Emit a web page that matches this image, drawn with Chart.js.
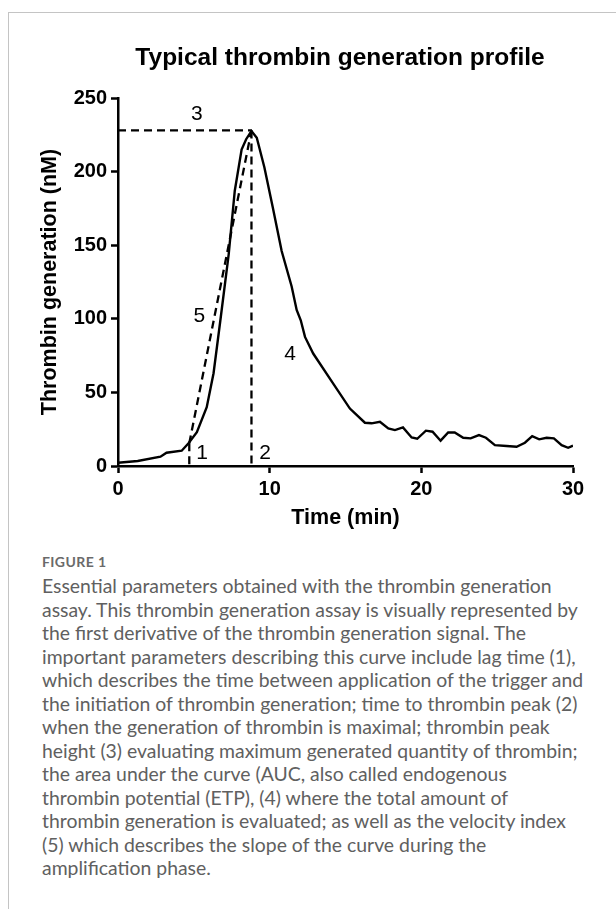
<!DOCTYPE html>
<html>
<head>
<meta charset="utf-8">
<script src="https://cdn.jsdelivr.net/npm/chart.js@4.4.0/dist/chart.umd.min.js"></script>
<style>
  html, body { margin: 0; padding: 0; background: #fff; width: 616px; height: 909px; overflow: hidden; }
  #frame { position: absolute; left: 8px; top: 12px; width: 620px; height: 910px;
           border-left: 1px solid #c4c4c4; border-top: 1px solid #c4c4c4; }
  #chart { position: absolute; left: 0; top: 0; }
  #caption { position: absolute; left: 42px; top: 550px; width: 570px;
             font-family: Lato, "Open Sans", sans-serif; color: #606060; }
  #figlabel { font-size: 14px; font-weight: bold; line-height: 24px; letter-spacing: 0.4px; height: 24px; color: #6a6a6a; }
  #captext { font-size: 19.4px; line-height: 23.5px; white-space: nowrap; }
</style>
</head>
<body>
<div id="frame"></div>
<canvas id="chart" width="616" height="531"></canvas>
<div id="caption">
  <div id="figlabel">FIGURE 1</div>
  <div id="captext">Essential parameters obtained with the thrombin generation<br>assay. This thrombin generation assay is visually represented by<br>the first derivative of the thrombin generation signal. The<br>important parameters describing this curve include lag time (1),<br>which describes the time between application of the trigger and<br>the initiation of thrombin generation; time to thrombin peak (2)<br>when the generation of thrombin is maximal; thrombin peak<br>height (3) evaluating maximum generated quantity of thrombin;<br>the area under the curve (AUC, also called endogenous<br>thrombin potential (ETP), (4) where the total amount of<br>thrombin generation is evaluated; as well as the velocity index<br>(5) which describes the slope of the curve during the<br>amplification phase.</div>
</div>
<script>
// ---- Data ----
const timeMin = [0, 1.3, 2.8, 3.2, 4.2, 4.65, 5.2, 5.85, 6.3, 6.75, 7.3, 7.7, 8.15, 8.45, 8.8,
  9.15, 9.65, 10.2, 10.79, 11.45, 11.78, 12.05, 12.33, 12.87, 14.19, 15.29, 16.28, 16.72, 17.27,
  17.82, 18.26, 18.79, 19.36, 19.73, 20.3, 20.74, 21.27, 21.77, 22.2, 22.76, 23.25, 23.8, 24.26,
  24.85, 25.62, 26.28, 26.83, 27.31, 27.77, 28.26, 28.74, 29.25, 29.68, 30];
const thrombinNM = [2.2, 3.4, 6.3, 9, 10.4, 15.4, 23, 40, 63, 99, 144, 187, 215, 222, 227.5,
  223, 203, 176, 146, 122, 106, 99, 87.7, 76.4, 56, 39, 29.4, 29, 30,
  25.5, 24.4, 26.2, 19.4, 18.5, 24, 23.3, 17.2, 22.8, 22.8, 19.2, 18.8, 21, 19.2,
  14.2, 13.6, 13.1, 15.8, 20.3, 18.1, 19.2, 18.8, 14.2, 12.4, 13.8];

const lagTime = 4.7;        // (1)
const lagLevel = 15.4;
const peakTime = 8.8;       // (2)
const peakHeight = 228;     // (3)

const xTicks = [0, 10, 20, 30];
const yTicks = [0, 50, 100, 150, 200, 250];

const labelText = ['1', '2', '3', '4', '5'];
const labelX = [5.55, 9.69, 5.19, 11.34, 5.36];
const labelY = [8.6, 8.6, 239, 76, 102];

// ---- Chart ----
const curve = timeMin.map((t, i) => ({ x: t, y: thrombinNM[i] }));
const dashStyle = { borderColor: '#000', borderWidth: 2.3, borderDash: [8, 5], pointRadius: 0, tension: 0, fill: false };

const labelsPlugin = {
  id: 'annotLabels',
  afterDatasetsDraw(chart) {
    const { ctx, scales: { x, y } } = chart;
    ctx.save();
    ctx.fillStyle = '#000';
    ctx.font = '21px "Liberation Sans", Arial, sans-serif';
    ctx.textAlign = 'center';
    ctx.textBaseline = 'middle';
    labelText.forEach((s, i) => ctx.fillText(s, x.getPixelForValue(labelX[i]), y.getPixelForValue(labelY[i])));
    ctx.restore();
  }
};
const titlePlugin = {
  id: 'customTitle',
  afterDraw(chart) {
    const { ctx } = chart;
    ctx.save();
    ctx.fillStyle = '#000';
    ctx.font = 'bold 24.5px "Liberation Sans", Arial, sans-serif';
    ctx.textAlign = 'center';
    ctx.textBaseline = 'alphabetic';
    ctx.fillText('Typical thrombin generation profile', 340, 65);
    ctx.restore();
  }
};

const tickFont = { family: '"Liberation Sans", Arial, sans-serif', size: 20, weight: 'bold' };
const titleFont = { family: '"Liberation Sans", Arial, sans-serif', size: 21.5, weight: 'bold' };

new Chart(document.getElementById('chart'), {
  type: 'line',
  data: {
    datasets: [
      { data: curve, borderColor: '#000', borderWidth: 2.4, pointRadius: 0, tension: 0, fill: false },
      Object.assign({ data: [{ x: 0, y: peakHeight }, { x: peakTime, y: peakHeight }] }, dashStyle),
      Object.assign({ data: [{ x: peakTime, y: peakHeight }, { x: peakTime, y: 0 }] }, dashStyle),
      Object.assign({ data: [{ x: lagTime, y: lagLevel }, { x: lagTime, y: 0 }] }, dashStyle),
      Object.assign({ data: [{ x: lagTime, y: lagLevel }, { x: peakTime, y: peakHeight }] }, dashStyle)
    ]
  },
  options: {
    responsive: false,
    animation: false,
    devicePixelRatio: 1,
    layout: { padding: { left: 0, top: 98, right: 43, bottom: 0 } },
    plugins: { legend: { display: false }, tooltip: { enabled: false }, title: { display: false } },
    scales: {
      x: {
        type: 'linear', min: 0, max: 30,
        afterFit(s) { s.height = 65; },
        afterBuildTicks(s) { s.ticks = xTicks.map(v => ({ value: v })); },
        border: { display: true, color: '#000', width: 2.5 },
        grid: { display: true, drawOnChartArea: false, drawTicks: true, tickLength: 7, tickWidth: 2.5, tickColor: '#000' },
        ticks: { color: '#000', font: tickFont, padding: 4, maxRotation: 0 },
        title: { display: true, text: 'Time (min)', color: '#000', font: titleFont, padding: { top: 0, bottom: 0 } }
      },
      y: {
        min: 0, max: 250,
        afterFit(s) { s.width = 118; },
        afterBuildTicks(s) { s.ticks = yTicks.map(v => ({ value: v })); },
        border: { display: true, color: '#000', width: 2.5 },
        grid: { display: true, drawOnChartArea: false, drawTicks: true, tickLength: 7, tickWidth: 2.5, tickColor: '#000' },
        ticks: { color: '#000', font: tickFont, padding: 4 },
        title: { display: true, text: 'Thrombin generation (nM)', color: '#000', font: titleFont, padding: { top: 37, bottom: 0 } }
      }
    }
  },
  plugins: [labelsPlugin, titlePlugin]
});
</script>
</body>
</html>
